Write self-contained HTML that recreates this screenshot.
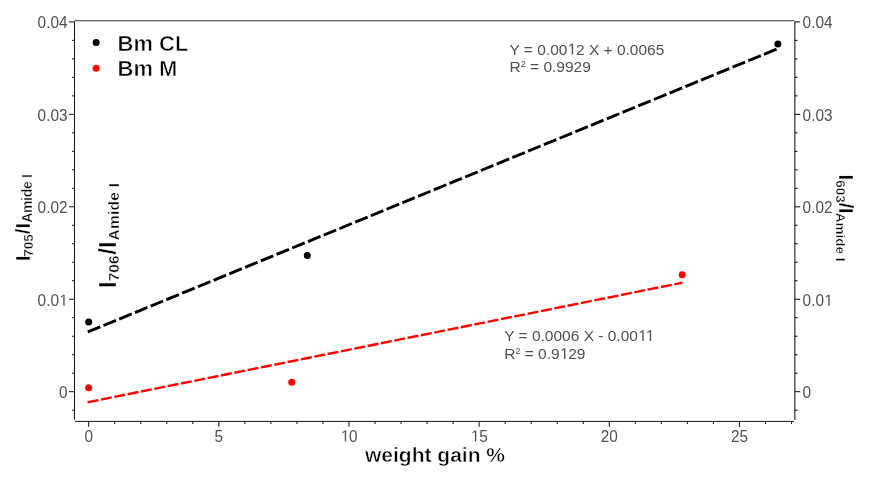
<!DOCTYPE html>
<html><head><meta charset="utf-8"><style>
html,body{margin:0;padding:0;background:#fff;width:871px;height:479px;overflow:hidden}
svg{display:block;will-change:transform}
text{font-family:"Liberation Sans",sans-serif}
.tk{font-size:16px;fill:#505050}
.eq{font-size:15.5px;fill:#505050}
.lg{font-size:22px;font-weight:bold;fill:#000;stroke:#fff;stroke-width:0.6px}
.ax{font-size:21px;font-weight:bold;fill:#000;stroke:#fff;stroke-width:0.5px}
.one{fill-opacity:0}
.rl{font-weight:bold;fill:#000;stroke:#fff;stroke-width:0.4px}
</style></head><body>
<svg width="871" height="479" viewBox="0 0 871 479">
<line x1="74.5" y1="21.2" x2="74.5" y2="419.8" stroke="#111" stroke-width="1"/>
<line x1="75.0" y1="20.75" x2="794.3" y2="20.75" stroke="#333" stroke-width="1"/>
<line x1="794.9" y1="21.4" x2="794.9" y2="419.8" stroke="#000" stroke-width="1"/>
<line x1="75" y1="421.4" x2="794" y2="421.4" stroke="#111" stroke-width="1"/>
<line x1="72.0" y1="410.19" x2="74.5" y2="410.19" stroke="#111" stroke-width="1"/>
<line x1="794.9" y1="410.19" x2="797.5" y2="410.19" stroke="#000" stroke-width="1"/>
<line x1="69.0" y1="391.70" x2="74.5" y2="391.70" stroke="#111" stroke-width="1"/>
<line x1="794.9" y1="391.70" x2="800.1999999999999" y2="391.70" stroke="#000" stroke-width="1"/>
<text transform="translate(67.5,398.20) scale(0.96,1)" text-anchor="end" class="tk">0</text>
<text transform="translate(802.6,398.20) scale(0.96,1)" class="tk">0</text>
<line x1="72.0" y1="373.21" x2="74.5" y2="373.21" stroke="#111" stroke-width="1"/>
<line x1="794.9" y1="373.21" x2="797.5" y2="373.21" stroke="#000" stroke-width="1"/>
<line x1="72.0" y1="354.72" x2="74.5" y2="354.72" stroke="#111" stroke-width="1"/>
<line x1="794.9" y1="354.72" x2="797.5" y2="354.72" stroke="#000" stroke-width="1"/>
<line x1="72.0" y1="336.23" x2="74.5" y2="336.23" stroke="#111" stroke-width="1"/>
<line x1="794.9" y1="336.23" x2="797.5" y2="336.23" stroke="#000" stroke-width="1"/>
<line x1="72.0" y1="317.74" x2="74.5" y2="317.74" stroke="#111" stroke-width="1"/>
<line x1="794.9" y1="317.74" x2="797.5" y2="317.74" stroke="#000" stroke-width="1"/>
<line x1="69.0" y1="299.25" x2="74.5" y2="299.25" stroke="#111" stroke-width="1"/>
<line x1="794.9" y1="299.25" x2="800.1999999999999" y2="299.25" stroke="#000" stroke-width="1"/>
<text transform="translate(67.5,305.75) scale(0.96,1)" text-anchor="end" class="tk">0.0<tspan class="one">1</tspan></text>
<text transform="translate(802.6,305.75) scale(0.96,1)" class="tk">0.0<tspan class="one">1</tspan></text>
<line x1="72.0" y1="280.76" x2="74.5" y2="280.76" stroke="#111" stroke-width="1"/>
<line x1="794.9" y1="280.76" x2="797.5" y2="280.76" stroke="#000" stroke-width="1"/>
<line x1="72.0" y1="262.27" x2="74.5" y2="262.27" stroke="#111" stroke-width="1"/>
<line x1="794.9" y1="262.27" x2="797.5" y2="262.27" stroke="#000" stroke-width="1"/>
<line x1="72.0" y1="243.78" x2="74.5" y2="243.78" stroke="#111" stroke-width="1"/>
<line x1="794.9" y1="243.78" x2="797.5" y2="243.78" stroke="#000" stroke-width="1"/>
<line x1="72.0" y1="225.29" x2="74.5" y2="225.29" stroke="#111" stroke-width="1"/>
<line x1="794.9" y1="225.29" x2="797.5" y2="225.29" stroke="#000" stroke-width="1"/>
<line x1="69.0" y1="206.80" x2="74.5" y2="206.80" stroke="#111" stroke-width="1"/>
<line x1="794.9" y1="206.80" x2="800.1999999999999" y2="206.80" stroke="#000" stroke-width="1"/>
<text transform="translate(67.5,213.30) scale(0.96,1)" text-anchor="end" class="tk">0.02</text>
<text transform="translate(802.6,213.30) scale(0.96,1)" class="tk">0.02</text>
<line x1="72.0" y1="188.31" x2="74.5" y2="188.31" stroke="#111" stroke-width="1"/>
<line x1="794.9" y1="188.31" x2="797.5" y2="188.31" stroke="#000" stroke-width="1"/>
<line x1="72.0" y1="169.82" x2="74.5" y2="169.82" stroke="#111" stroke-width="1"/>
<line x1="794.9" y1="169.82" x2="797.5" y2="169.82" stroke="#000" stroke-width="1"/>
<line x1="72.0" y1="151.33" x2="74.5" y2="151.33" stroke="#111" stroke-width="1"/>
<line x1="794.9" y1="151.33" x2="797.5" y2="151.33" stroke="#000" stroke-width="1"/>
<line x1="72.0" y1="132.84" x2="74.5" y2="132.84" stroke="#111" stroke-width="1"/>
<line x1="794.9" y1="132.84" x2="797.5" y2="132.84" stroke="#000" stroke-width="1"/>
<line x1="69.0" y1="114.35" x2="74.5" y2="114.35" stroke="#111" stroke-width="1"/>
<line x1="794.9" y1="114.35" x2="800.1999999999999" y2="114.35" stroke="#000" stroke-width="1"/>
<text transform="translate(67.5,120.85) scale(0.96,1)" text-anchor="end" class="tk">0.03</text>
<text transform="translate(802.6,120.85) scale(0.96,1)" class="tk">0.03</text>
<line x1="72.0" y1="95.86" x2="74.5" y2="95.86" stroke="#111" stroke-width="1"/>
<line x1="794.9" y1="95.86" x2="797.5" y2="95.86" stroke="#000" stroke-width="1"/>
<line x1="72.0" y1="77.37" x2="74.5" y2="77.37" stroke="#111" stroke-width="1"/>
<line x1="794.9" y1="77.37" x2="797.5" y2="77.37" stroke="#000" stroke-width="1"/>
<line x1="72.0" y1="58.88" x2="74.5" y2="58.88" stroke="#111" stroke-width="1"/>
<line x1="794.9" y1="58.88" x2="797.5" y2="58.88" stroke="#000" stroke-width="1"/>
<line x1="72.0" y1="40.39" x2="74.5" y2="40.39" stroke="#111" stroke-width="1"/>
<line x1="794.9" y1="40.39" x2="797.5" y2="40.39" stroke="#000" stroke-width="1"/>
<line x1="69.0" y1="21.90" x2="74.5" y2="21.90" stroke="#111" stroke-width="1"/>
<line x1="794.9" y1="21.90" x2="800.1999999999999" y2="21.90" stroke="#000" stroke-width="1"/>
<text transform="translate(67.5,28.40) scale(0.96,1)" text-anchor="end" class="tk">0.04</text>
<text transform="translate(802.6,28.40) scale(0.96,1)" class="tk">0.04</text>
<line x1="88.70" y1="421.4" x2="88.70" y2="426.79999999999995" stroke="#111" stroke-width="1"/>
<text transform="translate(88.70,441.5) scale(0.96,1)" text-anchor="middle" class="tk">0</text>
<line x1="114.73" y1="421.4" x2="114.73" y2="424.0" stroke="#111" stroke-width="1"/>
<line x1="140.76" y1="421.4" x2="140.76" y2="424.0" stroke="#111" stroke-width="1"/>
<line x1="166.79" y1="421.4" x2="166.79" y2="424.0" stroke="#111" stroke-width="1"/>
<line x1="192.82" y1="421.4" x2="192.82" y2="424.0" stroke="#111" stroke-width="1"/>
<line x1="218.85" y1="421.4" x2="218.85" y2="426.79999999999995" stroke="#111" stroke-width="1"/>
<text transform="translate(218.85,441.5) scale(0.96,1)" text-anchor="middle" class="tk">5</text>
<line x1="244.88" y1="421.4" x2="244.88" y2="424.0" stroke="#111" stroke-width="1"/>
<line x1="270.91" y1="421.4" x2="270.91" y2="424.0" stroke="#111" stroke-width="1"/>
<line x1="296.94" y1="421.4" x2="296.94" y2="424.0" stroke="#111" stroke-width="1"/>
<line x1="322.97" y1="421.4" x2="322.97" y2="424.0" stroke="#111" stroke-width="1"/>
<line x1="349.00" y1="421.4" x2="349.00" y2="426.79999999999995" stroke="#111" stroke-width="1"/>
<text transform="translate(349.00,441.5) scale(0.96,1)" text-anchor="middle" class="tk"><tspan class="one">1</tspan>0</text>
<line x1="375.03" y1="421.4" x2="375.03" y2="424.0" stroke="#111" stroke-width="1"/>
<line x1="401.06" y1="421.4" x2="401.06" y2="424.0" stroke="#111" stroke-width="1"/>
<line x1="427.09" y1="421.4" x2="427.09" y2="424.0" stroke="#111" stroke-width="1"/>
<line x1="453.12" y1="421.4" x2="453.12" y2="424.0" stroke="#111" stroke-width="1"/>
<line x1="479.15" y1="421.4" x2="479.15" y2="426.79999999999995" stroke="#111" stroke-width="1"/>
<text transform="translate(479.15,441.5) scale(0.96,1)" text-anchor="middle" class="tk"><tspan class="one">1</tspan>5</text>
<line x1="505.18" y1="421.4" x2="505.18" y2="424.0" stroke="#111" stroke-width="1"/>
<line x1="531.21" y1="421.4" x2="531.21" y2="424.0" stroke="#111" stroke-width="1"/>
<line x1="557.24" y1="421.4" x2="557.24" y2="424.0" stroke="#111" stroke-width="1"/>
<line x1="583.27" y1="421.4" x2="583.27" y2="424.0" stroke="#111" stroke-width="1"/>
<line x1="609.30" y1="421.4" x2="609.30" y2="426.79999999999995" stroke="#111" stroke-width="1"/>
<text transform="translate(609.30,441.5) scale(0.96,1)" text-anchor="middle" class="tk">20</text>
<line x1="635.33" y1="421.4" x2="635.33" y2="424.0" stroke="#111" stroke-width="1"/>
<line x1="661.36" y1="421.4" x2="661.36" y2="424.0" stroke="#111" stroke-width="1"/>
<line x1="687.39" y1="421.4" x2="687.39" y2="424.0" stroke="#111" stroke-width="1"/>
<line x1="713.42" y1="421.4" x2="713.42" y2="424.0" stroke="#111" stroke-width="1"/>
<line x1="739.45" y1="421.4" x2="739.45" y2="426.79999999999995" stroke="#111" stroke-width="1"/>
<text transform="translate(739.45,441.5) scale(0.96,1)" text-anchor="middle" class="tk">25</text>
<line x1="765.48" y1="421.4" x2="765.48" y2="424.0" stroke="#111" stroke-width="1"/>
<line x1="791.51" y1="421.4" x2="791.51" y2="424.0" stroke="#111" stroke-width="1"/>
<line x1="87.8" y1="331.95" x2="776.6" y2="49.13" stroke="#000" stroke-width="2.9" stroke-dasharray="13.5 3.5"/>
<line x1="87.6" y1="402.25" x2="682.6" y2="282.65" stroke="#ff0000" stroke-width="2.4" stroke-dasharray="11 2.6"/>
<circle cx="88.65" cy="321.9" r="3.5" fill="#000"/>
<circle cx="307.3" cy="255.4" r="3.5" fill="#000"/>
<circle cx="777.85" cy="44.0" r="3.5" fill="#000"/>
<circle cx="88.6" cy="387.8" r="3.5" fill="#ff0000"/>
<circle cx="291.7" cy="382.2" r="3.5" fill="#ff0000"/>
<circle cx="682.2" cy="274.8" r="3.5" fill="#ff0000"/>
<circle cx="96.1" cy="42.5" r="3.5" fill="#000"/>
<circle cx="96.1" cy="68.3" r="3.5" fill="#ff0000"/>
<text x="117.5" y="50.8" class="lg">Bm CL</text>
<text x="117.5" y="76.1" class="lg">Bm M</text>
<text x="509.5" y="54.5" class="eq">Y = 0.00<tspan class="one">1</tspan>2 X + 0.0065</text>
<text x="509.5" y="72.1" class="eq">R<tspan font-size="9" dy="-5">2</tspan><tspan dy="5"> = 0.9929</tspan></text>
<text x="504.2" y="341" class="eq">Y = 0.0006 X - 0.00<tspan class="one">1</tspan><tspan class="one">1</tspan></text>
<text x="504.2" y="359" class="eq">R<tspan font-size="9" dy="-5">2</tspan><tspan dy="5"> = 0.9<tspan class="one">1</tspan>29</tspan></text>
<text x="365" y="462" class="ax">weight gain %</text>
<text transform="translate(29.6,261.2) rotate(-90)" class="rl" font-size="20.5">I<tspan font-size="13.5" dy="3" dx="-1.3">705</tspan><tspan dy="-3">/I</tspan><tspan font-size="14" dy="2.4" letter-spacing="-0.3">Amide I</tspan></text>
<text transform="translate(116.2,288) rotate(-90)" class="rl" font-size="24">I<tspan font-size="15.5" dy="2.7">706</tspan><tspan dy="-2.7" dx="0.8">/I</tspan><tspan font-size="15.5" dy="2.7" dx="0.7" letter-spacing="0.3">Amide I</tspan></text>
<text transform="translate(839.2,174.5) rotate(90)" class="rl" font-size="21">I<tspan font-size="13.5" dy="3">603</tspan><tspan dy="-3" dx="-0.3">/</tspan><tspan dx="-0.6">I</tspan><tspan font-size="13.5" dy="3" dx="-1">Amide I</tspan></text>
<path transform="translate(67.5,305.75) scale(0.96,1) translate(-8.895,0.000) scale(0.007812,-0.007812)" d="M575 0V1237L257 1010V1180L590 1409H756V0Z" fill="rgb(80, 80, 80)"/>
<path transform="translate(802.6,305.75) scale(0.96,1) translate(22.237,0.000) scale(0.007812,-0.007812)" d="M575 0V1237L257 1010V1180L590 1409H756V0Z" fill="rgb(80, 80, 80)"/>
<path transform="translate(349.00,441.5) scale(0.96,1) translate(-8.895,0.000) scale(0.007812,-0.007812)" d="M575 0V1237L257 1010V1180L590 1409H756V0Z" fill="rgb(80, 80, 80)"/>
<path transform="translate(479.15,441.5) scale(0.96,1) translate(-8.895,0.000) scale(0.007812,-0.007812)" d="M575 0V1237L257 1010V1180L590 1409H756V0Z" fill="rgb(80, 80, 80)"/>
<path transform=" translate(567.391,54.500) scale(0.007568,-0.007568)" d="M575 0V1237L257 1010V1180L590 1409H756V0Z" fill="rgb(80, 80, 80)"/>
<path transform=" translate(637.919,341.000) scale(0.007568,-0.007568)" d="M575 0V1237L257 1010V1180L590 1409H756V0Z" fill="rgb(80, 80, 80)"/>
<path transform=" translate(645.403,341.000) scale(0.007568,-0.007568)" d="M575 0V1237L257 1010V1180L590 1409H756V0Z" fill="rgb(80, 80, 80)"/>
<path transform=" translate(559.638,359.000) scale(0.007568,-0.007568)" d="M575 0V1237L257 1010V1180L590 1409H756V0Z" fill="rgb(80, 80, 80)"/>
</svg>
</body></html>
